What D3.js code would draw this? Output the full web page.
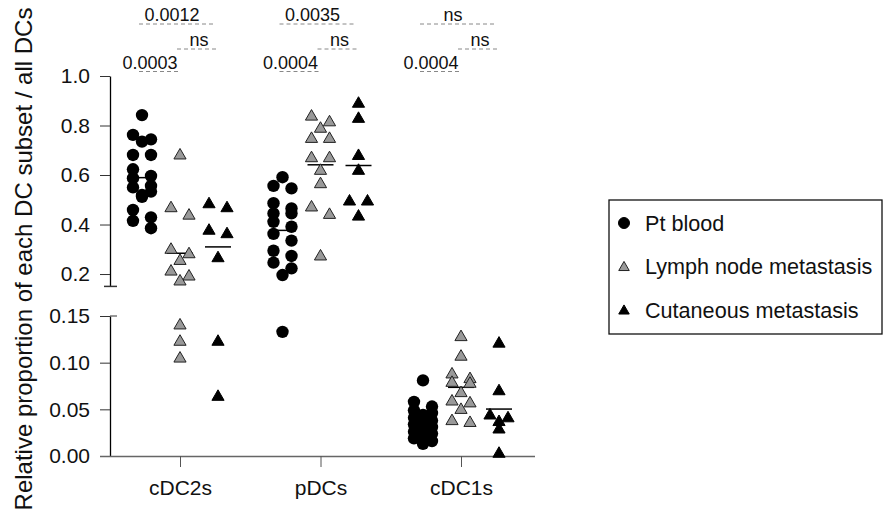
<!DOCTYPE html>
<html>
<head>
<meta charset="utf-8">
<script src="https://cdn.jsdelivr.net/npm/d3@7"></script>
<style>
  body { margin: 0; background: #fff; }
  svg text { font-family: "Liberation Sans", Arial, sans-serif; fill: #111; }
</style>
</head>
<body>
<svg width="884" height="519"></svg>
<script>
// values, one array per cell group, one row per DC subset
var categories = ["cDC2s", "pDCs", "cDC1s"]
var groups = ["Pt blood", "Lymph node metastasis", "Cutaneous metastasis"]

var ptBlood = [
  [0.842, 0.762, 0.744, 0.735, 0.681, 0.681, 0.623, 0.596, 0.587, 0.556, 0.550, 0.533, 0.519, 0.512, 0.459, 0.429, 0.415, 0.385],
  [0.591, 0.556, 0.546, 0.486, 0.465, 0.445, 0.445, 0.411, 0.391, 0.362, 0.335, 0.294, 0.273, 0.246, 0.223, 0.196, 0.133],
  [0.081, 0.058, 0.053, 0.049, 0.046, 0.044, 0.041, 0.038, 0.036, 0.034, 0.031, 0.028, 0.026, 0.024, 0.022, 0.019, 0.016, 0.013]
]
var lymphNode = [
  [0.685, 0.472, 0.442, 0.304, 0.286, 0.259, 0.216, 0.196, 0.176, 0.1415, 0.124, 0.106],
  [0.842, 0.819, 0.793, 0.752, 0.752, 0.674, 0.674, 0.623, 0.569, 0.475, 0.445, 0.277],
  [0.129, 0.108, 0.089, 0.084, 0.080, 0.079, 0.069, 0.060, 0.058, 0.051, 0.039, 0.037]
]
var cutaneous = [
  [0.488, 0.472, 0.381, 0.367, 0.270, 0.124, 0.065],
  [0.894, 0.833, 0.683, 0.623, 0.499, 0.499, 0.438],
  [0.122, 0.071, 0.045, 0.042, 0.038, 0.030, 0.004]
]

// p values shown above each subset
var pBloodVsLymph = ["0.0003", "0.0004", "0.0004"]
var pLymphVsCut = ["ns", "ns", "ns"]
var pBloodVsCut = ["0.0012", "0.0035", "ns"]

var upperTicks = [0.2, 0.4, 0.6, 0.8, 1.0]
var lowerTicks = [0, 0.05, 0.10, 0.15]

var svg = d3.select("svg")
var axisX = 110
var groupOffset = [-38, 0, 38]

// broken y axis: two linear pieces
var yUpper = d3.scaleLinear().domain([0.15, 1.0]).range([286.4, 76])
var yLower = d3.scaleLinear().domain([0, 0.15]).range([456, 316])
function yPos(v) { return v >= 0.15 ? yUpper(v) : yLower(v) }

var x = d3.scalePoint().domain(categories).range([180, 461])

function styleAxis(g) {
    g.attr("font-size", null).attr("font-family", null)
    g.selectAll("text").style("font-size", "21px")
    g.selectAll(".tick line").attr("stroke", "#333")
}

//upper part of y axis
var gUp = svg.append("g")
    .attr("transform", "translate(" + axisX + ",0)")
    .call(d3.axisLeft(yUpper).tickValues(upperTicks).tickFormat(d3.format(".1f"))
        .tickSize(10).tickSizeOuter(0).tickPadding(10))
styleAxis(gUp)
gUp.select(".domain").attr("stroke", "#000").attr("stroke-width", 1.3)
gUp.append("line")
    .attr("x1", -6).attr("x2", 7)
    .attr("y1", yUpper(0.15)).attr("y2", yUpper(0.15))
    .attr("stroke", "#333").attr("stroke-width", 1.5)

//lower part of y axis
var gLow = svg.append("g")
    .attr("transform", "translate(" + axisX + ",0)")
    .call(d3.axisLeft(yLower).tickValues(lowerTicks).tickFormat(d3.format(".2f"))
        .tickSize(10).tickSizeOuter(0).tickPadding(10))
styleAxis(gLow)
gLow.select(".domain").attr("stroke", "#000").attr("stroke-width", 1.3)
gLow.append("line")
    .attr("x1", 0).attr("x2", 7)
    .attr("y1", yLower(0.15)).attr("y2", yLower(0.15))
    .attr("stroke", "#333").attr("stroke-width", 1)

//x axis
var gX = svg.append("g")
    .attr("transform", "translate(0," + yLower(0) + ")")
    .call(d3.axisBottom(x).tickSize(11).tickSizeOuter(0).tickPadding(13))
styleAxis(gX)
gX.select(".domain").attr("d", "M100,0.5H535").attr("stroke", "#666").attr("stroke-width", 1.5)
gX.selectAll(".tick line").attr("stroke", "#555")

//y axis title
svg.append("text")
    .attr("transform", "rotate(-90)")
    .attr("x", -259)
    .attr("y", 32)
    .style("text-anchor", "middle")
    .style("font-size", "24px")
    .text("Relative proportion of each DC subset / all DCs")

// simple Prism-like scatter layout: points close in y are spread sideways
function spread(values) {
    var pts = values.map(function (v) { return { v: v, y: yPos(v) } })
    pts.sort(function (a, b) { return a.y - b.y })
    var bins = [], cur = []
    pts.forEach(function (p) {
        if (cur.length && (p.y - cur[0].y > 8 || cur.length == 3)) { bins.push(cur); cur = [] }
        cur.push(p)
    })
    if (cur.length) bins.push(cur)
    var pattern = { 1: [0], 2: [-1, 1], 3: [-1, 1, 0] }
    bins.forEach(function (b) {
        b.forEach(function (p, i) { p.dx = pattern[b.length][i] * 9 })
    })
    return pts
}

var series = [ptBlood, lymphNode, cutaneous]
var fills = ["#000", "#999", "#000"]
var strokes = ["#000", "#222", "#000"]
var triangle = d3.symbol().type(d3.symbolTriangle).size(64)

var plot = svg.append("g")

//mean lines go under the points
series.forEach(function (s, gi) {
    plot.selectAll(".mean" + gi)
        .data(categories)
        .enter().append("line")
        .attr("x1", function (d, i) { return x(d) + groupOffset[gi] - 13 })
        .attr("x2", function (d, i) { return x(d) + groupOffset[gi] + 13 })
        .attr("y1", function (d, i) { return yPos(d3.mean(s[i])) })
        .attr("y2", function (d, i) { return yPos(d3.mean(s[i])) })
        .attr("stroke", "#000")
        .attr("stroke-width", 1.5)
})

series.forEach(function (s, gi) {
    categories.forEach(function (c, ci) {
        var pts = spread(s[ci])
        var cx = x(c) + groupOffset[gi]
        var sel = plot.append("g").selectAll("path").data(pts).enter()
        if (gi == 0) {
            sel.append("circle")
                .attr("cx", function (d) { return cx + d.dx })
                .attr("cy", function (d) { return d.y })
                .attr("r", 6.2)
                .attr("fill", "#000")
        } else {
            sel.append("path")
                .attr("d", triangle)
                .attr("transform", function (d) { return "translate(" + (cx + d.dx) + "," + (d.y + 1.5) + ")" })
                .attr("fill", fills[gi])
                .attr("stroke", strokes[gi])
                .attr("stroke-width", 1)
        }
    })
})

//significance labels with dashed comparison lines
var comparisons = [
    { labels: pBloodVsCut, from: 0, to: 2, y: 24, dx: -8 },
    { labels: pLymphVsCut, from: 1, to: 2, y: 49, dx: 0 },
    { labels: pBloodVsLymph, from: 0, to: 1, y: 71.5, dx: -11 }
]
comparisons.forEach(function (cmp) {
    var g = svg.append("g").selectAll("g").data(categories).enter().append("g")
    g.append("line")
        .attr("x1", function (d) { return x(d) + groupOffset[cmp.from] - 3 })
        .attr("x2", function (d) { return x(d) + groupOffset[cmp.to] - 2 })
        .attr("y1", cmp.y).attr("y2", cmp.y)
        .attr("stroke", "#888")
        .attr("stroke-width", 1)
        .attr("stroke-dasharray", "4,3")
    g.append("text")
        .attr("x", function (d) { return x(d) + (groupOffset[cmp.from] + groupOffset[cmp.to]) / 2 + cmp.dx })
        .attr("y", cmp.y - 3)
        .style("text-anchor", "middle")
        .style("font-size", "18px")
        .text(function (d, i) { return cmp.labels[i] })
})

//legend
var legend = svg.append("g").attr("transform", "translate(609,200)")
legend.append("rect")
    .attr("width", 273).attr("height", 134)
    .attr("fill", "none").attr("stroke", "#111").attr("stroke-width", 1.3)
var items = legend.selectAll(".legend").data(groups).enter().append("g")
    .attr("class", "legend")
    .attr("transform", function (d, i) { return "translate(15," + (23 + i * 43.5) + ")" })
items.append("path")
    .attr("d", function (d, i) {
        return d3.symbol().type(i == 0 ? d3.symbolCircle : d3.symbolTriangle).size(i == 0 ? 95 : 48)()
    })
    .attr("transform", function (d, i) { return "translate(0," + (i == 0 ? 0 : 1) + ")" })
    .attr("fill", function (d, i) { return fills[i] })
    .attr("stroke", function (d, i) { return strokes[i] })
    .attr("stroke-width", 1)
items.append("text")
    .attr("x", 21)
    .attr("dy", "0.36em")
    .style("font-size", "21.6px")
    .text(function (d) { return d })
</script>
</body>
</html>
